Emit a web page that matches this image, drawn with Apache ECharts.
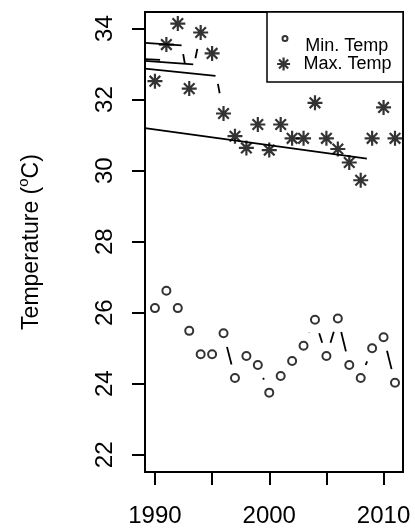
<!DOCTYPE html>
<html>
<head>
<meta charset="utf-8">
<script src="https://cdn.jsdelivr.net/npm/echarts@6/dist/echarts.min.js"></script>
<style>
  html, body { margin: 0; padding: 0; background: #fff; }
  #chart { width: 415px; height: 529px; }
</style>
</head>
<body>
<div id="chart"></div>
<script>
const years = [1990, 1991, 1992, 1993, 1994, 1995, 1996, 1997, 1998, 1999, 2000,
               2001, 2002, 2003, 2004, 2005, 2006, 2007, 2008, 2009, 2010, 2011];
const minTemp = [26.13, 26.62, 26.13, 25.49, 24.83, 24.83, 25.42, 24.16, 24.78, 24.53, 23.75,
                 24.22, 24.64, 25.07, 25.80, 24.78, 25.84, 24.53, 24.16, 25.00, 25.31, 24.03];
const maxTemp = [32.52, 33.55, 34.14, 32.31, 33.89, 33.30, 31.61, 30.97, 30.64, 31.30, 30.58,
                 31.30, 30.91, 30.91, 31.91, 30.91, 30.61, 30.23, 29.73, 30.91, 31.78, 30.91];
// trend segments: [startYear, startValue, endYear, endValue]
const trendLines = [
  [1989.13, 31.20, 2008.54, 30.34],
  [1989.13, 32.87, 1995.30, 32.67],
  [1989.13, 33.09, 1993.35, 32.99],
  [1989.13, 33.14, 1990.45, 33.12],
  [1989.13, 33.60, 1992.33, 33.53]
];
const xTicks = [1990, 1995, 2000, 2005, 2010];
const xLabels = [1990, 2000, 2010];
const yTicks = [22, 24, 26, 28, 30, 32, 34];

const FONT = "'Liberation Sans', Arial, sans-serif";
const GAP = 14; // R type="b" gap around points
const STAR = 'path://M0,-1L0,1M-1,0L1,0M-0.7071,-0.7071L0.7071,0.7071M-0.7071,0.7071L0.7071,-0.7071';
// small circle sitting at the top of a tall icon box (as in the R legend)
const LEG_CIRCLE = 'path://M2.5,21M5,2.5A2.5,2.5,0,1,1,0,2.5A2.5,2.5,0,1,1,5,2.5Z';

function pairs(vals) {
  return years.slice(1).map((y, i) => [years[i], vals[i], y, vals[i + 1]]);
}

// segments between points, cut back near each point
function gapSegment(dash) {
  return function (params, api) {
    const a = api.coord([api.value(0), api.value(1)]);
    const b = api.coord([api.value(2), api.value(3)]);
    const dx = b[0] - a[0], dy = b[1] - a[1];
    const d = Math.sqrt(dx * dx + dy * dy);
    if (d <= 2 * GAP) return { type: 'group', children: [] };
    const ux = dx / d, uy = dy / d;
    return {
      type: 'line',
      shape: { x1: a[0] + ux * GAP, y1: a[1] + uy * GAP, x2: b[0] - ux * GAP, y2: b[1] - uy * GAP },
      style: { stroke: '#000', lineWidth: 1.8, lineDash: dash }
    };
  };
}

const chart = echarts.init(document.getElementById('chart'));

const option = {
  backgroundColor: '#fff',
  animation: false,
  grid: {
    left: 145, right: 12, top: 12, bottom: 57,
    show: true, borderColor: '#000', borderWidth: 2
  },
  xAxis: {
    type: 'value',
    min: 1989.13,
    max: 2011.7,
    splitLine: { show: false },
    axisLine: { show: false },
    axisTick: { length: 13, lineStyle: { color: '#000', width: 2 }, customValues: xTicks },
    axisLabel: {
      customValues: xLabels, formatter: v => String(v),
      color: '#000', fontSize: 24, fontFamily: FONT, margin: 32
    }
  },
  yAxis: {
    type: 'value',
    min: 21.516,
    max: 34.467,
    name: '{t|Temperature (}{s|o}{t|C)}',
    nameLocation: 'middle',
    nameGap: 98,
    nameTextStyle: {
      rich: {
        t: { fontSize: 23, fontFamily: FONT, color: '#000' },
        s: { fontSize: 15, fontFamily: FONT, color: '#000', padding: [0, 0, 16, 0] }
      }
    },
    splitLine: { show: false },
    axisLine: { show: false },
    axisTick: { length: 13, lineStyle: { color: '#000', width: 2 }, customValues: yTicks },
    axisLabel: { customValues: yTicks, rotate: 90, color: '#000', fontSize: 24, fontFamily: FONT, margin: 28 }
  },
  legend: [
    {
      data: [{
        name: 'Min. Temp', icon: LEG_CIRCLE,
        itemStyle: { color: 'none', borderColor: '#000', borderWidth: 2 }
      }],
      left: 267, top: 12,
      padding: [21.5, 14.8, 22.5, 13],
      itemWidth: 5, itemHeight: 21,
      symbolKeepAspect: false,
      borderColor: '#000', borderWidth: 1.5, backgroundColor: '#fff',
      selectedMode: false,
      textStyle: { fontFamily: FONT, fontSize: 18, color: '#000', padding: [0, 0, 0, 12.7] }
    },
    {
      data: [{
        name: 'Max. Temp', icon: STAR,
        itemStyle: { color: '#000', borderColor: '#000', borderWidth: 2.2 }
      }],
      left: 276, top: 55,
      padding: 0,
      itemWidth: 13, itemHeight: 13,
      selectedMode: false,
      textStyle: { fontFamily: FONT, fontSize: 18, color: '#000', padding: [0, 0, 0, 8.5] }
    }
  ],
  series: [
    {
      name: 'Min. Temp',
      type: 'scatter',
      data: years.map((y, i) => [y, minTemp[i]]),
      symbol: 'circle',
      symbolSize: 8,
      itemStyle: { color: 'none', borderColor: '#000', borderWidth: 2 },
      z: 3
    },
    {
      name: 'Max. Temp',
      type: 'scatter',
      data: years.map((y, i) => [y, maxTemp[i]]),
      symbol: STAR,
      symbolSize: 15,
      itemStyle: { color: '#000', borderColor: '#000', borderWidth: 2.2 },
      z: 3
    },
    {
      type: 'custom',
      data: pairs(minTemp),
      encode: { x: [0, 2], y: [1, 3] },
      renderItem: gapSegment(null),
      silent: true
    },
    {
      type: 'custom',
      data: pairs(maxTemp),
      encode: { x: [0, 2], y: [1, 3] },
      renderItem: gapSegment([0, 17, 9.5, 400]),
      silent: true
    }
  ].concat(trendLines.map(t => ({
    type: 'line',
    data: [[t[0], t[1]], [t[2], t[3]]],
    showSymbol: false,
    symbol: 'none',
    lineStyle: { color: '#000', width: 1.8 },
    silent: true
  })))
};

chart.setOption(option);
</script>
</body>
</html>
